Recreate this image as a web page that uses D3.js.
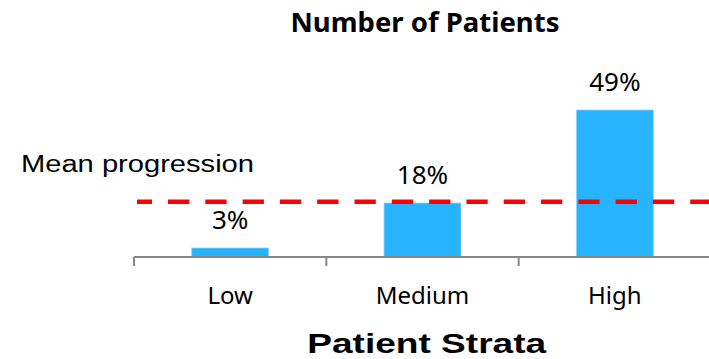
<!DOCTYPE html>
<html>
<head>
<meta charset="utf-8">
<script src="https://cdn.jsdelivr.net/npm/d3@7"></script>
<style>
  html, body { margin: 0; padding: 0; background: #fff; }
  svg { display: block; }
</style>
</head>
<body>
<svg id="chart" width="709" height="359"></svg>
<script>
// Share of patients per stratum (%)
const categories = ["Low", "Medium", "High"];
const shares = [3, 18, 49];
const valueLabels = ["3%", "18%", "49%"];
const meanProgression = 18.4;

const chartTitle = "Number of Patients";
const axisTitle = "Patient Strata";
const meanLabel = "Mean progression";

const svg = d3.select("#chart");
const W = 709, H = 359;
const bodyFont = "'Noto Sans', 'Open Sans', sans-serif";

const x = d3.scaleBand()
  .domain(categories)
  .range([134, 711])
  .paddingInner(0.6)
  .paddingOuter(0.3);

const y = d3.scaleLinear()
  .domain([0, 50])
  .range([257, 107]);

// bars
svg.append("g").selectAll("rect")
  .data(categories)
  .join("rect")
  .attr("x", d => x(d))
  .attr("y", (d, i) => y(shares[i]))
  .attr("width", x.bandwidth())
  .attr("height", (d, i) => y(0) - y(shares[i]))
  .attr("fill", "#27b3fe")
  .attr("stroke", "#8fd6ff")
  .attr("stroke-width", 0.8);

// category axis: baseline with ticks on category boundaries
const axisG = svg.append("g");
axisG.append("line")
  .attr("x1", x.range()[0]).attr("x2", x.range()[1])
  .attr("y1", y(0)).attr("y2", y(0))
  .attr("stroke", "#878787").attr("stroke-width", 2);
const step = x.step();
const boundaries = d3.range(categories.length + 1).map(i => x.range()[0] + i * step);
axisG.selectAll("line.tick")
  .data(boundaries)
  .join("line")
  .attr("class", "tick")
  .attr("x1", d => d).attr("x2", d => d)
  .attr("y1", y(0)).attr("y2", y(0) + 9)
  .attr("stroke", "#878787").attr("stroke-width", 2);

// category labels
svg.append("g").selectAll("text")
  .data(categories)
  .join("text")
  .attr("x", d => x(d) + x.bandwidth() / 2)
  .attr("y", 304)
  .attr("text-anchor", "middle")
  .attr("font-family", bodyFont)
  .attr("font-size", 24)
  .attr("fill", "#000")
  .text(d => d);

// value labels above bars
svg.append("g").selectAll("text")
  .data(categories)
  .join("text")
  .attr("x", d => x(d) + x.bandwidth() / 2)
  .attr("y", (d, i) => y(shares[i]) - 19)
  .attr("text-anchor", "middle")
  .attr("font-family", bodyFont)
  .attr("font-size", 26)
  .attr("fill", "#000")
  .text((d, i) => valueLabels[i]);

// mean progression reference line
svg.append("line")
  .attr("x1", 137).attr("x2", W)
  .attr("y1", y(meanProgression)).attr("y2", y(meanProgression))
  .attr("stroke", "#ff0000")
  .attr("stroke-width", 4.6)
  .attr("stroke-dasharray", "21.3 16")
  .attr("stroke-dashoffset", 6.3);

svg.append("text")
  .attr("x", 21)
  .attr("y", 171.5)
  .attr("font-family", "'Liberation Sans', Arial, sans-serif")
  .attr("font-size", 23)
  .attr("textLength", 233)
  .attr("lengthAdjust", "spacingAndGlyphs")
  .attr("fill", "#000")
  .text(meanLabel);

// chart title
svg.append("text")
  .attr("x", 425)
  .attr("y", 32.3)
  .attr("text-anchor", "middle")
  .attr("font-family", bodyFont)
  .attr("font-weight", "bold")
  .attr("font-size", 27.5)
  .attr("fill", "#000")
  .text(chartTitle);

// axis title
svg.append("text")
  .attr("x", 426.7)
  .attr("y", 353.3)
  .attr("text-anchor", "middle")
  .attr("font-family", "'Liberation Sans', Arial, sans-serif")
  .attr("font-weight", "bold")
  .attr("font-size", 28)
  .attr("textLength", 239)
  .attr("lengthAdjust", "spacingAndGlyphs")
  .attr("fill", "#000")
  .text(axisTitle);
</script>
</body>
</html>
